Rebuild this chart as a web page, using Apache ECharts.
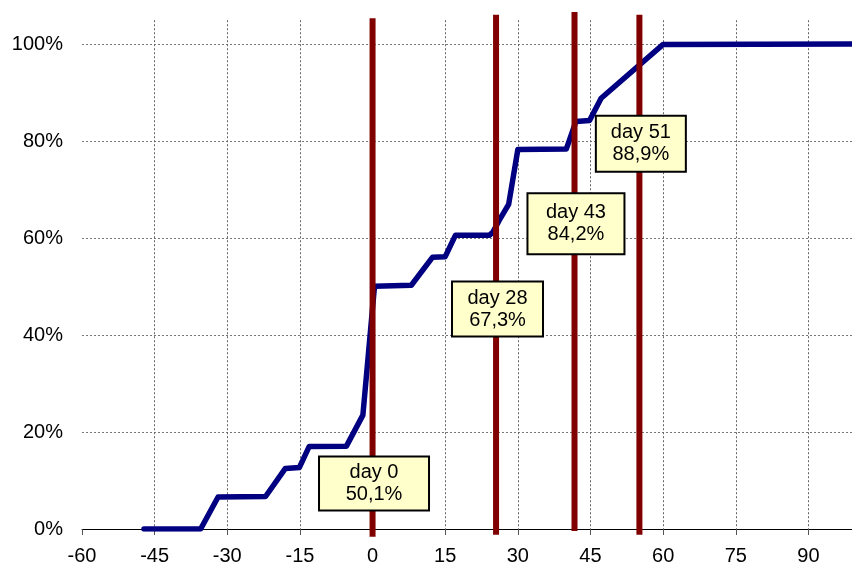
<!DOCTYPE html>
<html>
<head>
<meta charset="utf-8">
<script src="https://cdn.jsdelivr.net/npm/echarts@6/dist/echarts.min.js"></script>
<style>
  html, body { margin: 0; padding: 0; background: #fff; }
  #chart { width: 852px; height: 566px; }
</style>
</head>
<body>
<div id="chart"></div>
<script>
  // cumulative curve (days, share)
  var days = [-47.2, -35.5, -31.9, -22.1, -18.0, -15.1, -13.1, -5.4, -2.0, 0.4, 8.0, 12.4,
              15.0, 17.1, 24.1, 24.8, 26.2, 28.1, 30.0, 40.0, 42.0, 44.8, 47.2, 60.0, 99];
  var share = [0, 0, 6.6, 6.7, 12.5, 12.7, 17.0, 17.1, 23.5, 50.1, 50.3, 56.1,
               56.2, 60.6, 60.6, 61.2, 63.8, 67.0, 78.3, 78.4, 84.1, 84.3, 88.9, 100, 100.1];

  // vertical markers and their captions
  var markerDays = [0, 25.5, 41.7, 55.1];
  var markerTop = [105.4, 106.1, 106.7, 106.1];
  var markerBottom = [-1.6, -1.2, -0.4, -1.2];
  var labelDays = [0, 28, 43, 51];
  var labelValues = ['50,1', '67,3', '84,2', '88,9'];

  var xTicks = [-60, 90, 15];   // min, last label, step

  // caption boxes: center height (in %) and box size
  var boxY = [9.4, 45.4, 63.0, 79.5];
  var boxW = [112, 93, 99, 92];
  var boxH = [56, 57, 63, 58];

  var font = "'Liberation Sans', Arial, sans-serif";

  var curve = days.map(function (d, i) { return [d, share[i] / 100]; });

  var series = [{
    type: 'line',
    data: curve,
    symbol: 'none',
    z: 3,
    lineStyle: { color: '#000080', width: 5.5, cap: 'round', join: 'round' }
  }];

  markerDays.forEach(function (d, i) {
    series.push({
      type: 'line',
      data: [[d, markerBottom[i] / 100], [d, markerTop[i] / 100]],
      symbol: 'none',
      clip: false,
      z: 4,
      lineStyle: { color: '#800000', width: 6, cap: 'butt' }
    });
  });

  series.push({
    type: 'scatter',
    symbolSize: 0,
    z: 6,
    clip: false,
    itemStyle: { opacity: 1 },
    emphasis: { disabled: true },
    data: markerDays.map(function (d, i) {
      return {
        value: [d + 0.3, boxY[i] / 100],
        label: {
          width: boxW[i] - 4,
          padding: [(boxH[i] - 4 - 44) / 2, 0]
        }
      };
    }),
    label: {
      show: true,
      opacity: 1,
      position: 'inside',
      align: 'center',
      verticalAlign: 'middle',
      fontFamily: font,
      fontSize: 20,
      lineHeight: 22,
      color: '#000',
      backgroundColor: '#FFFFCC',
      borderColor: '#000',
      borderWidth: 2,
      formatter: function (p) {
        return 'day ' + labelDays[p.dataIndex] + '\n' + labelValues[p.dataIndex] + '%';
      }
    }
  });

  var myChart = echarts.init(document.getElementById('chart'));
  myChart.setOption({
    animation: false,
    grid: { left: 82, right: 0, top: 20.2, bottom: 35, containLabel: false },
    xAxis: {
      type: 'value',
      min: xTicks[0],
      max: 99,
      interval: xTicks[2],
      axisLine: { show: true, onZero: false, lineStyle: { color: '#000', width: 1 } },
      axisTick: { show: true, length: 6, lineStyle: { color: '#555' } },
      axisLabel: {
        showMaxLabel: false,
        margin: 17,
        fontFamily: font,
        fontSize: 20,
        color: '#000'
      },
      splitLine: {
        show: true,
        showMinLine: false,
        showMaxLine: false,
        lineStyle: { color: '#666', width: 1, type: [2, 2] }
      }
    },
    yAxis: {
      type: 'value',
      min: 0,
      max: 1.05,
      interval: 0.2,
      axisLine: { show: false },
      axisTick: { show: false },
      axisLabel: {
        showMaxLabel: false,
        margin: 19,
        fontFamily: font,
        fontSize: 20,
        color: '#000',
        formatter: function (v) { return Math.round(v * 100) + '%'; }
      },
      splitLine: {
        show: true,
        showMaxLine: false,
        lineStyle: { color: '#777', width: 1, type: [2, 2] }
      }
    },
    series: series
  });
</script>
</body>
</html>
